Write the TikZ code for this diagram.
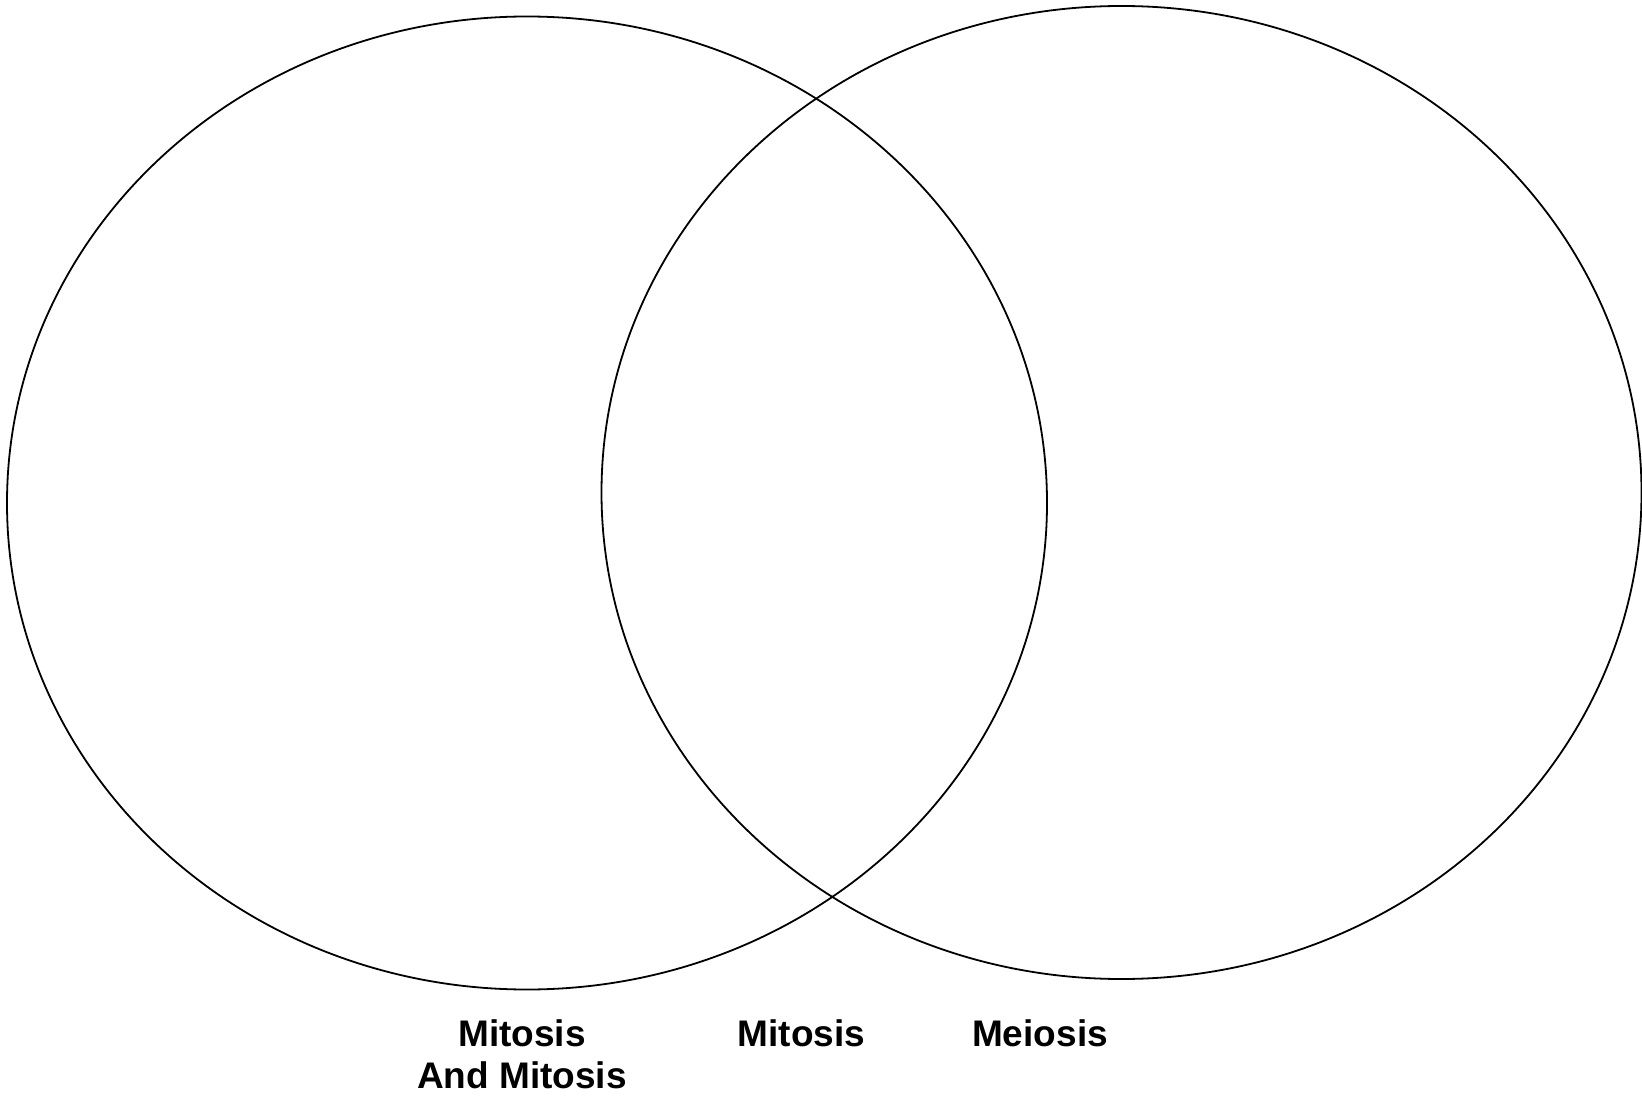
\documentclass[tikz,border=0pt]{standalone}
\usepackage{fontspec}
\setmainfont{Liberation Sans}
\begin{document}
\begin{tikzpicture}[x=0.5pt, y=-0.5pt, thick,
    setlabel/.style={anchor=base, align=center, inner sep=0pt,
        font=\bfseries\fontsize{18.5pt}{21pt}\selectfont}]

        \useasboundingbox (0,0) rectangle (1642,1096);

        % the two sets
        \foreach \cx/\cy in {527/503, 1121.5/492.5} {
            \draw[line width=0.9pt] (\cx,\cy) ellipse [x radius=520, y radius=486.5];
        }

        % labels under the sets (base of a two-line node is its last line)
        \node[setlabel] (both) at (522,1088) {Mitosis\\And Mitosis};
        \node[setlabel] (mitosis) at (801.5,1046) {Mitosis};
        \node[setlabel] (meiosis) at (1040,1046) {Meiosis};

\end{tikzpicture}
\end{document}
